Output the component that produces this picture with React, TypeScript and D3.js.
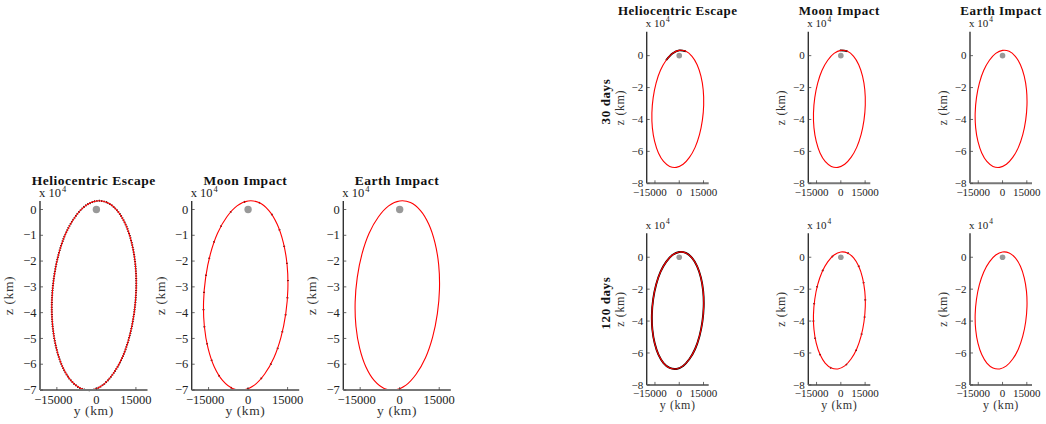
import React from "react";
import * as d3 from "d3";

// Trajectory (y, z) in km
const trajY = [0, 4100, 7900, 11050, 13400, 14800, 15100, 14300, 12500, 9800, 6300, 2400,
  -1800, -5900, -9700, -12850, -15200, -16600, -16900, -16100, -14300, -11600, -8100, -4200];
const trajZ = [3300, 2700, -400, -5700, -12900, -21400, -30900, -40400, -49500, -57500, -63800, -68100,
  -70000, -69400, -66300, -61000, -53800, -45300, -35900, -26300, -17200, -9200, -2900, 1400];
// short black arcs near the top (visible under red)
const helioArcY = [-8100, -4200, 0, 4100];
const helioArcZ = [-2900, 1400, 3300, 2700];
const moonArcY = [-600, 2000, 4100];
const moonArcZ = [3300, 3150, 2700];

const titles = ["Heliocentric Escape", "Moon Impact", "Earth Impact"];
const rowLabels = ["30 days", "120 days"];
const xTicks = [-15000, 0, 15000];
const xTickLabels = ["\u221215000", "0", "15000"];
const leftYTicks = [0, -10000, -20000, -30000, -40000, -50000, -60000, -70000];
const leftYTickLabels = ["0", "\u22121", "\u22122", "\u22123", "\u22124", "\u22125", "\u22126", "\u22127"];
const rightYTicks = [0, -20000, -40000, -60000, -80000];
const rightYTickLabels = ["0", "\u22122", "\u22124", "\u22126", "\u22128"];

type BlackMode = "dots" | "sparse" | "full" | "helioArc" | "moonArc" | "none";

interface PanelProps {
  left: number;
  top: number;
  width: number;
  height: number;
  xDomain: [number, number];
  yDomain: [number, number];
  yTicks: number[];
  yTickLabels: string[];
  title?: string;
  titleSize: number;
  fontSize: number;
  labelSize: number;
  showXLabel: boolean;
  rowLabel?: string;
  black: BlackMode;
  dotR: number;
  zLabelOff: number;
  negShift: number;
  big: boolean;
}

const FONT = "'Liberation Serif', 'Times New Roman', serif";

function Panel(p: PanelProps) {
  const x = d3.scaleLinear().domain(p.xDomain).range([p.left, p.left + p.width]);
  const y = d3.scaleLinear().domain(p.yDomain).range([p.top + p.height, p.top]);
  const pts: [number, number][] = trajY.map((v, i) => [x(v), y(trajZ[i])]);
  const closed = d3.line().curve(d3.curveCatmullRomClosed.alpha(0.5));
  const open = d3.line().curve(d3.curveCatmullRom.alpha(0.5));
  const ellipse = closed(pts) || "";
  const bottom = p.top + p.height;
  const cx = p.left + p.width / 2;
  const cy = p.top + p.height / 2;
  let blackEl: React.ReactNode = null;
  if (p.black === "dots") {
    blackEl = <path d={ellipse} fill="none" stroke="#000" strokeWidth={2} strokeDasharray="1 1.4" />;
  } else if (p.black === "sparse") {
    blackEl = <path d={ellipse} fill="none" stroke="#000" strokeWidth={1.8} strokeDasharray="1.2 16" />;
  } else if (p.black === "full") {
    blackEl = <path d={ellipse} fill="none" stroke="#000" strokeWidth={1.9} />;
  } else if (p.black === "helioArc") {
    const d = open(helioArcY.map((v, i) => [x(v), y(helioArcZ[i])] as [number, number])) || "";
    blackEl = <path d={d} fill="none" stroke="#000" strokeWidth={1.8} />;
  } else if (p.black === "moonArc") {
    const d = open(moonArcY.map((v, i) => [x(v), y(moonArcZ[i])] as [number, number])) || "";
    blackEl = <path d={d} fill="none" stroke="#000" strokeWidth={1.8} />;
  }
  const fs = p.fontSize;
  const ls = p.labelSize;
  return (
    <g fontFamily={FONT}>
      {p.title && (
        <text x={cx} y={p.top - (p.big ? 16 : 16.7)} textAnchor="middle" fontWeight="bold" fontSize={p.titleSize} letterSpacing={0.5} fill="#111">
          {p.title}
        </text>
      )}
      <text x={p.left - 1} y={p.top - 4.5} fontSize={fs} fill="#222">
        x 10
        <tspan dx={1} dy={-5} fontSize={fs * 0.68}>4</tspan>
      </text>
      {blackEl}
      <path d={ellipse} fill="none" stroke="#ff0000" strokeWidth={1.1} />
      <circle cx={x(0)} cy={y(0)} r={p.dotR} fill="#999" />
      {/* axes */}
      <line x1={p.left} x2={p.left} y1={p.top} y2={bottom} stroke="#333" strokeWidth={1.4} />
      <line x1={p.left} x2={p.left + p.width} y1={bottom} y2={bottom} stroke="#777" strokeWidth={2} />
      {p.yTicks.map((t, i) => (
        <g key={"y" + i}>
          <line x1={p.left} x2={p.left + 3} y1={y(t)} y2={y(t)} stroke="#444" strokeWidth={0.8} />
          <text x={p.left - 3.5} y={y(t) + fs * 0.33} textAnchor="end" fontSize={fs} fill="#222">
            {p.yTickLabels[i]}
          </text>
        </g>
      ))}
      {xTicks.map((t, i) => (
        <g key={"x" + i}>
          <line x1={x(t)} x2={x(t)} y1={bottom} y2={bottom - 3} stroke="#444" strokeWidth={0.8} />
          <text x={x(t) - (t < 0 ? p.negShift : 0)} y={bottom + (p.big ? 13.5 : 12.5)} textAnchor="middle" fontSize={fs} fill="#222">
            {xTickLabels[i]}
          </text>
        </g>
      ))}
      {p.showXLabel && (
        <text x={cx} y={bottom + (p.big ? 25 : 24.5)} textAnchor="middle" fontSize={ls} letterSpacing={0.6} fill="#333">
          y (km)
        </text>
      )}
      <text
        transform={`translate(${p.left - p.zLabelOff},${cy}) rotate(-90)`}
        textAnchor="middle"
        fontSize={ls}
        letterSpacing={0.6}
        fill="#333"
      >
        z (km)
      </text>
      {p.rowLabel && (
        <text
          transform={`translate(${p.left - 37},${cy - 6}) rotate(-90)`}
          textAnchor="middle"
          fontSize={13}
          letterSpacing={0.6}
          fontWeight="bold"
          fill="#111"
        >
          {p.rowLabel}
        </text>
      )}
    </g>
  );
}

const leftLefts = [40, 191.7, 343.3];
const rightLefts = [646.7, 808.3, 970];
const rightTops = [31.7, 233.3];
const leftBlack: BlackMode[] = ["dots", "sparse", "none"];
const rightBlack: BlackMode[][] = [
  ["helioArc", "moonArc", "none"],
  ["full", "sparse", "none"],
];

export default function App() {
  return (
    <svg width={1046} height={424} style={{ position: "absolute", left: 0, top: 0, display: "block", background: "#fff" }}>
      {leftLefts.map((l, i) => (
        <Panel
          key={"L" + i}
          left={l}
          top={201}
          width={107.5}
          height={189}
          xDomain={[-21400, 19400]}
          yDomain={[-70000, 3300]}
          yTicks={leftYTicks}
          yTickLabels={leftYTickLabels}
          title={titles[i]}
          titleSize={13.5}
          fontSize={12.5}
          labelSize={13.5}
          showXLabel={true}
          black={leftBlack[i]}
          dotR={3.7}
          zLabelOff={27}
          negShift={3.5}
          big={true}
        />
      ))}
      {rightTops.map((t, r) =>
        rightLefts.map((l, i) => (
          <Panel
            key={"R" + r + i}
            left={l}
            top={t}
            width={62}
            height={151.6}
            xDomain={[-20100, 18200]}
            yDomain={[-80000, 15000]}
            yTicks={rightYTicks}
            yTickLabels={rightYTickLabels}
            title={r === 0 ? titles[i] : undefined}
            titleSize={13}
            fontSize={11}
            labelSize={12}
            showXLabel={r === 1}
            rowLabel={i === 0 ? rowLabels[r] : undefined}
            black={rightBlack[r][i]}
            dotR={2.8}
            zLabelOff={23}
            negShift={5}
            big={false}
          />
        ))
      )}
    </svg>
  );
}
